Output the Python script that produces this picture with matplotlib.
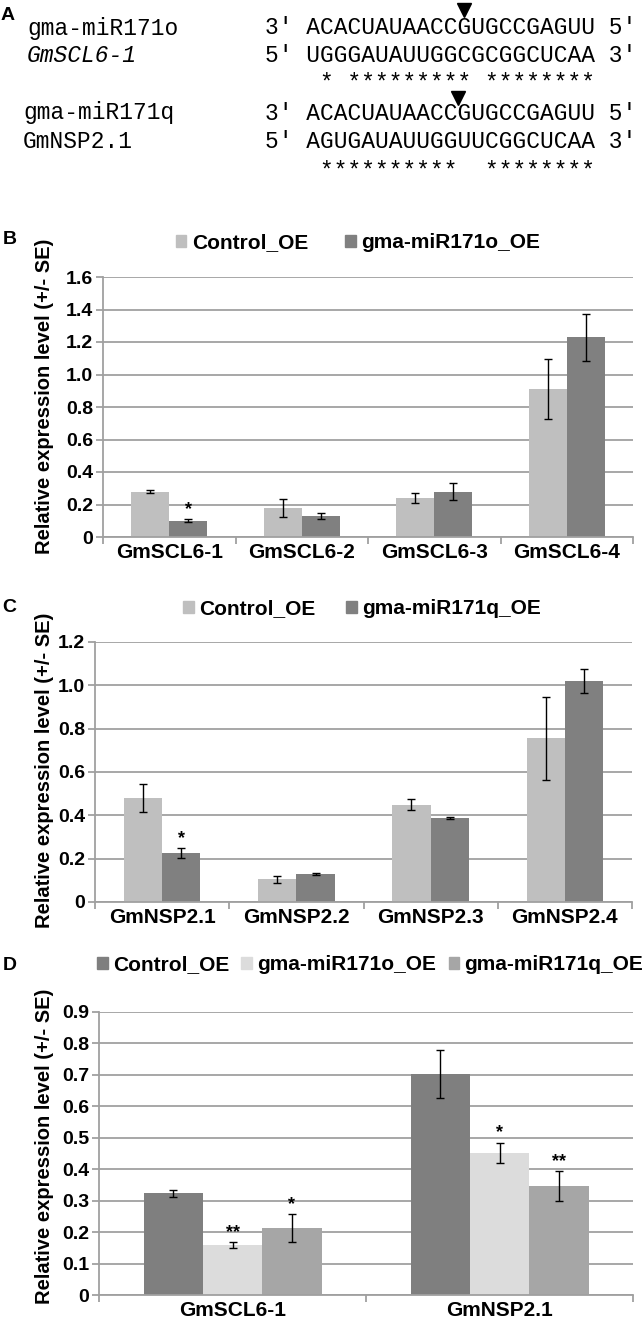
import numpy as np
import matplotlib.pyplot as plt
from matplotlib.patches import Patch

plt.rcParams['font.family'] = ['Liberation Sans', 'DejaVu Sans']
plt.rcParams['font.weight'] = 'bold'

# ---- panel A: alignments ----
a_names = ['gma-miR171o', 'GmSCL6-1', 'gma-miR171q', 'GmNSP2.1']
a_italic = [False, True, False, False]
a_seqs = ['ACACUAUAACCGUGCCGAGUU', 'UGGGAUAUUGGCGCGGCUCAA',
          'ACACUAUAACCGUGCCGAGUU', 'AGUGAUAUUGGUUCGGCUCAA']
a_ends = [('3′', '5′'), ('5′', '3′'), ('3′', '5′'), ('5′', '3′')]
a_match = [' * ********* ********', ' **********  ********']
a_cleave = [11.5, 11.0]   # cleavage site, in characters from sequence start

# ---- panel B ----
b_genes = ['GmSCL6-1', 'GmSCL6-2', 'GmSCL6-3', 'GmSCL6-4']
b_labels = ['Control_OE', 'gma-miR171o_OE']
b_control = [0.28, 0.18, 0.24, 0.91]
b_control_se = [0.012, 0.055, 0.03, 0.185]
b_mir171o = [0.10, 0.13, 0.28, 1.23]
b_mir171o_se = [0.01, 0.02, 0.05, 0.145]
b_sig = [['', '', '', ''], ['*', '', '', '']]

# ---- panel C ----
c_genes = ['GmNSP2.1', 'GmNSP2.2', 'GmNSP2.3', 'GmNSP2.4']
c_labels = ['Control_OE', 'gma-miR171q_OE']
c_control = [0.48, 0.105, 0.45, 0.755]
c_control_se = [0.065, 0.016, 0.026, 0.19]
c_mir171q = [0.225, 0.13, 0.388, 1.02]
c_mir171q_se = [0.022, 0.005, 0.003, 0.057]
c_sig = [['', '', '', ''], ['*', '', '', '']]

# ---- panel D ----
d_genes = ['GmSCL6-1', 'GmNSP2.1']
d_labels = ['Control_OE', 'gma-miR171o_OE', 'gma-miR171q_OE']
d_control = [0.323, 0.703]
d_control_se = [0.012, 0.077]
d_mir171o = [0.158, 0.452]
d_mir171o_se = [0.01, 0.032]
d_mir171q = [0.212, 0.346]
d_mir171q_se = [0.045, 0.048]
d_sig = [['', ''], ['**', '*'], ['*', '**']]

GRID = '#a0a0a0'
W, H = 643, 1331
fig = plt.figure(figsize=(W / 100, H / 100), dpi=100)


def fx(x):
    return x / W


def fy(y):
    return 1 - y / H


def add_ax(left, top, right, bottom):
    return fig.add_axes([fx(left), fy(bottom), (right - left) / W, (bottom - top) / H])


def bar_panel(ax, genes, series, errs, colors, sig, ymax, ystep):
    n = len(series)
    x = np.arange(len(genes))
    w = 1 / (n + 1.5)
    for i in range(n):
        pos = x + (i - (n - 1) / 2) * w
        ax.bar(pos, series[i], w, color=colors[i], zorder=2)
        ax.errorbar(pos, series[i], yerr=errs[i], fmt='none', ecolor='black',
                    elinewidth=1, capsize=3, capthick=1, zorder=3)
        for p, v, e, s in zip(pos, series[i], errs[i], sig[i]):
            if s:
                ax.annotate(s, (p, v + e), xytext=(0, 1), textcoords='offset points',
                            ha='center', va='bottom', fontsize=13, fontweight='bold')
    ax.set_xlim(-0.5, len(genes) - 0.5)
    ax.set_ylim(0, ymax)
    ticks = np.arange(0, ymax + ystep / 2, ystep)
    ax.set_yticks(ticks)
    ax.set_yticklabels(['0' if t == 0 else f'{t:.1f}' for t in ticks], fontsize=14)
    ax.yaxis.grid(True, color=GRID, lw=1.3, zorder=0)
    ax.set_axisbelow(True)
    ax.set_xticks(x)
    ax.set_xticklabels(genes, fontsize=15)
    ax.set_xticks(np.arange(-0.5, len(genes)), minor=True)
    ax.tick_params(axis='x', which='major', length=0, pad=4)
    ax.tick_params(axis='x', which='minor', length=5, color=GRID, width=1.3)
    ax.tick_params(axis='y', length=5, color=GRID, width=1.3, pad=2)
    for s in ['top', 'right']:
        ax.spines[s].set_visible(False)
    for s in ['left', 'bottom']:
        ax.spines[s].set_color(GRID)
        ax.spines[s].set_linewidth(1.3)


def legend(labels, colors, cx, cy, spacing):
    handles = [Patch(color=c, label=l) for c, l in zip(colors, labels)]
    fig.legend(handles=handles, loc='center', bbox_to_anchor=(fx(cx), fy(cy)),
               ncol=len(labels), frameon=False, fontsize=15, handlelength=0.5,
               handleheight=0.5, handletextpad=0.25, columnspacing=spacing,
               borderaxespad=0, borderpad=0)


def ylabel(x, y):
    fig.text(fx(x), fy(y), 'Relative expression level (+/- SE)', rotation=90,
             ha='center', va='center', fontsize=14.5, fontweight='bold')


# ---- panel A drawing ----
mono = ['Liberation Mono', 'DejaVu Sans Mono']
fs_seq = 16.5
cw = 0.6 * fs_seq * 100 / 72
row_y = [28, 56, 113, 141]
name_x = [27, 27, 23, 23]
seq_x = 265
for i in range(4):
    fig.text(fx(name_x[i]), fy(row_y[i]), a_names[i], family=mono, fontsize=fs_seq,
             fontweight='normal', style='italic' if a_italic[i] else 'normal',
             ha='left', va='center')
    fig.text(fx(seq_x), fy(row_y[i]), f'{a_ends[i][0]} {a_seqs[i]} {a_ends[i][1]}',
             family=mono, fontsize=fs_seq, fontweight='normal', ha='left', va='center')
star_y = [84, 172]
tri_y = [10, 98]
for j in range(2):
    fig.text(fx(seq_x), fy(star_y[j]), '   ' + a_match[j], family=mono, fontsize=fs_seq,
             fontweight='normal', ha='left', va='center')
    fig.add_artist(plt.Line2D([fx(seq_x + (3 + a_cleave[j]) * cw)], [fy(tri_y[j])],
                              marker='v', markersize=10, color='black', linestyle='none'))

# ---- panel B ----
axB = add_ax(103, 277, 633, 537)
bar_panel(axB, b_genes, [b_control, b_mir171o], [b_control_se, b_mir171o_se],
          ['#bfbfbf', '#808080'], b_sig, 1.6, 0.2)
legend(b_labels, ['#bfbfbf', '#808080'], 358, 243, 1.8)
ylabel(45, 396)

# ---- panel C ----
axC = add_ax(95, 642, 632, 902)
bar_panel(axC, c_genes, [c_control, c_mir171q], [c_control_se, c_mir171q_se],
          ['#bfbfbf', '#808080'], c_sig, 1.2, 0.2)
legend(c_labels, ['#bfbfbf', '#808080'], 362, 609, 1.5)
ylabel(45, 770)

# ---- panel D ----
axD = add_ax(99, 1012, 633, 1295)
d_colors = ['#7f7f7f', '#dcdcdc', '#a6a6a6']
bar_panel(axD, d_genes, [d_control, d_mir171o, d_mir171q],
          [d_control_se, d_mir171o_se, d_mir171q_se], d_colors, d_sig, 0.9, 0.1)
legend(d_labels, d_colors, 370, 965, 0.6)
ylabel(45, 1146)

for lab, (x, y) in zip('ABCD', [(8, 15), (10, 240), (9, 607), (10, 965)]):
    fig.text(fx(x), fy(y), lab, fontsize=14, fontweight='bold', ha='center', va='center')

fig.savefig('out.png', dpi=100)
